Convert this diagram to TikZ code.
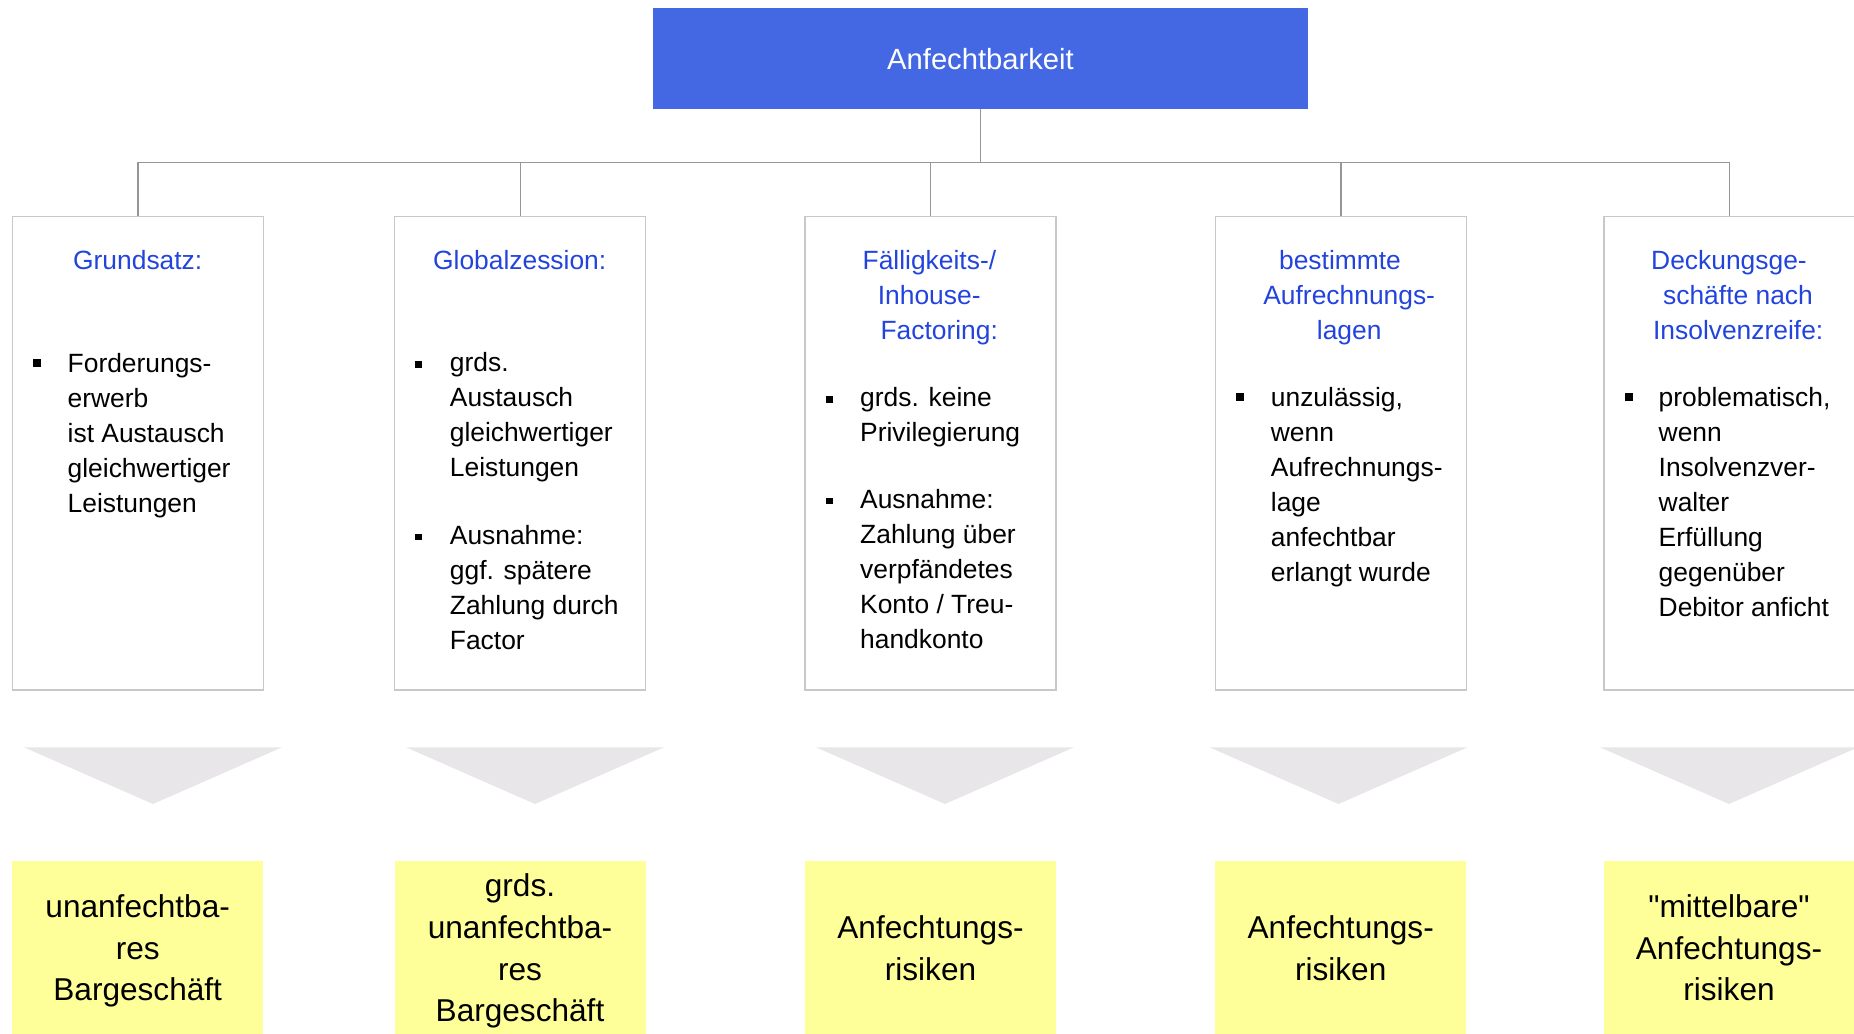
\documentclass[tikz,border=0pt]{standalone}
\usepackage{fontspec}
\setmainfont{Liberation Sans}[Ligatures=TeXOff]
\definecolor{titleblue}{RGB}{68,104,228}
\definecolor{headblue}{RGB}{34,68,221}
\definecolor{boxgray}{RGB}{200,200,200}
\definecolor{conngray}{RGB}{150,150,150}
\definecolor{arrowgray}{RGB}{232,230,232}
\definecolor{notey}{RGB}{255,255,153}
\tikzset{
  rootbox/.style={draw=none,fill=titleblue,minimum width=327.5pt,minimum height=50.35pt,inner sep=0pt,
    text=white,font=\fontsize{14.6}{17.5}\selectfont,text height=10.95pt,text depth=0pt},
  colbox/.style={draw=boxgray,line width=0.7pt,minimum width=125.5pt,minimum height=236.85pt,inner sep=0pt},
  notebox/.style={draw=none,fill=notey,minimum width=125.5pt,minimum height=87.35pt,inner sep=0pt},
  conn/.style={draw=conngray,line width=0.75pt},
  headtxt/.style={anchor=base,inner sep=0pt,text=headblue,font=\fontsize{13.2}{17.5}\selectfont},
  bodytxt/.style={anchor=base west,inner sep=0pt,text=black,font=\fontsize{13.2}{17.5}\selectfont},
  notetxt/.style={anchor=base,inner sep=0pt,text=black,font=\fontsize{15.8}{20.8}\selectfont},
}
\newcommand\bodylines[4]{\foreach \t [count=\i from 0] in {#4} {\node[bodytxt] (#1-\i) at (#2,{#3+35*\i}) {\t};}}
\newcommand\notelines[4]{\foreach \t [count=\i from 0] in {#4} {\node[notetxt] (#1-\i) at (#2,{#3+41.7*\i}) {\t};}}
\newcommand\bigbullet[2]{\fill[black] (#1,#2-13.5) rectangle (#1+8,#2-5.5);}
\newcommand\smallbullet[2]{\fill[black] (#1,#2-10.5) rectangle (#1+6.5,#2-4);}
\newcommand\downarrowshape[1]{\fill[arrowgray] (#1-129,747.3) -- (#1+129,747.3) -- (#1,804) -- cycle;}
\begin{document}
\begin{tikzpicture}[x=0.5pt,y=-0.5pt]
\useasboundingbox (0,0) rectangle (1854,1034);
% root
\node[rootbox] (root) at (980.5,58.35) {Anfechtbarkeit};
% column boxes
\node[colbox] (b1) at (137.75,453.15) {};
\node[colbox] (b2) at (520.25,453.15) {};
\node[colbox] (b3) at (930.5,453.15) {};
\node[colbox] (b4) at (1340.75,453.15) {};
\node[colbox] (b5) at (1729.5,453.15) {};
% connectors
\coordinate (bus) at (980.5,162.3);
\draw[conn] (root.south) -- (bus);
\foreach \b in {b1,b2,b3,b4,b5} {\draw[conn] (bus) -| (\b.north);}
% headings
\node[headtxt] (h1) at (137.7,269.5) {Grundsatz:};
\node[headtxt] (h2) at (519.7,269.5) {Globalzession:};
\node[headtxt] (h3a) at (929.4,269.3) {Fälligkeits-/};
\node[headtxt] (h3b) at (929.2,304.6) {Inhouse-};
\node[headtxt] (h3c) at (939.2,339.9) {Factoring:};
\node[headtxt] (h4a) at (1340,269.3) {bestimmte};
\node[headtxt] (h4b) at (1349.2,304.6) {Aufrechnungs-};
\node[headtxt] (h4c) at (1349.2,339.9) {lagen};
\node[headtxt] (h5a) at (1729,269.3) {Deckungsge-};
\node[headtxt] (h5b) at (1738,304.6) {schäfte nach};
\node[headtxt] (h5c) at (1738.2,339.9) {Insolvenzreife:};
% body texts
\bigbullet{33}{372}
\bodylines{t1}{67.3}{372}{Forderungs-,erwerb,ist Austausch,gleichwertiger,Leistungen}
\smallbullet{415}{371.7}
\bodylines{t2a}{449.5}{371.7}{grds.,Austausch,gleichwertiger,Leistungen}
\smallbullet{415}{544.3}
\bodylines{t2b}{449.5}{544.3}{Ausnahme:,ggf. spätere,Zahlung durch,Factor}
\smallbullet{826}{406.7}
\bodylines{t3a}{859.8}{406.7}{grds. keine,Privilegierung}
\smallbullet{826}{508.3}
\bodylines{t3b}{859.8}{508.3}{Ausnahme:,Zahlung über,verpfändetes,Konto / Treu-,handkonto}
\bigbullet{1236}{406.7}
\bodylines{t4}{1270.5}{406.7}{{unzulässig,},wenn,Aufrechnungs-,lage,anfechtbar,erlangt wurde}
\bigbullet{1625}{406.7}
\bodylines{t5}{1658.3}{406.7}{{problematisch,},wenn,Insolvenzver-,walter,Erfüllung,gegenüber,Debitor anficht}
% down arrows
\downarrowshape{153}
\downarrowshape{535}
\downarrowshape{945}
\downarrowshape{1338.5}
\downarrowshape{1729}
% result boxes
\node[notebox] (y1) at (137.75,948.65) {};
\node[notebox] (y2) at (520.25,948.65) {};
\node[notebox] (y3) at (930.5,948.65) {};
\node[notebox] (y4) at (1340.75,948.65) {};
\node[notebox] (y5) at (1729.5,948.65) {};
\notelines{r1}{137.7}{917.3}{unanfechtba-,res,Bargeschäft}
\notelines{r2}{520}{896.7}{grds.,unanfechtba-,res,Bargeschäft}
\notelines{r3}{930.5}{938.3}{Anfechtungs-,risiken}
\notelines{r4}{1340.7}{938.3}{Anfechtungs-,risiken}
\notelines{r5}{1729}{917.3}{"mittelbare",Anfechtungs-,risiken}
\end{tikzpicture}
\end{document}
